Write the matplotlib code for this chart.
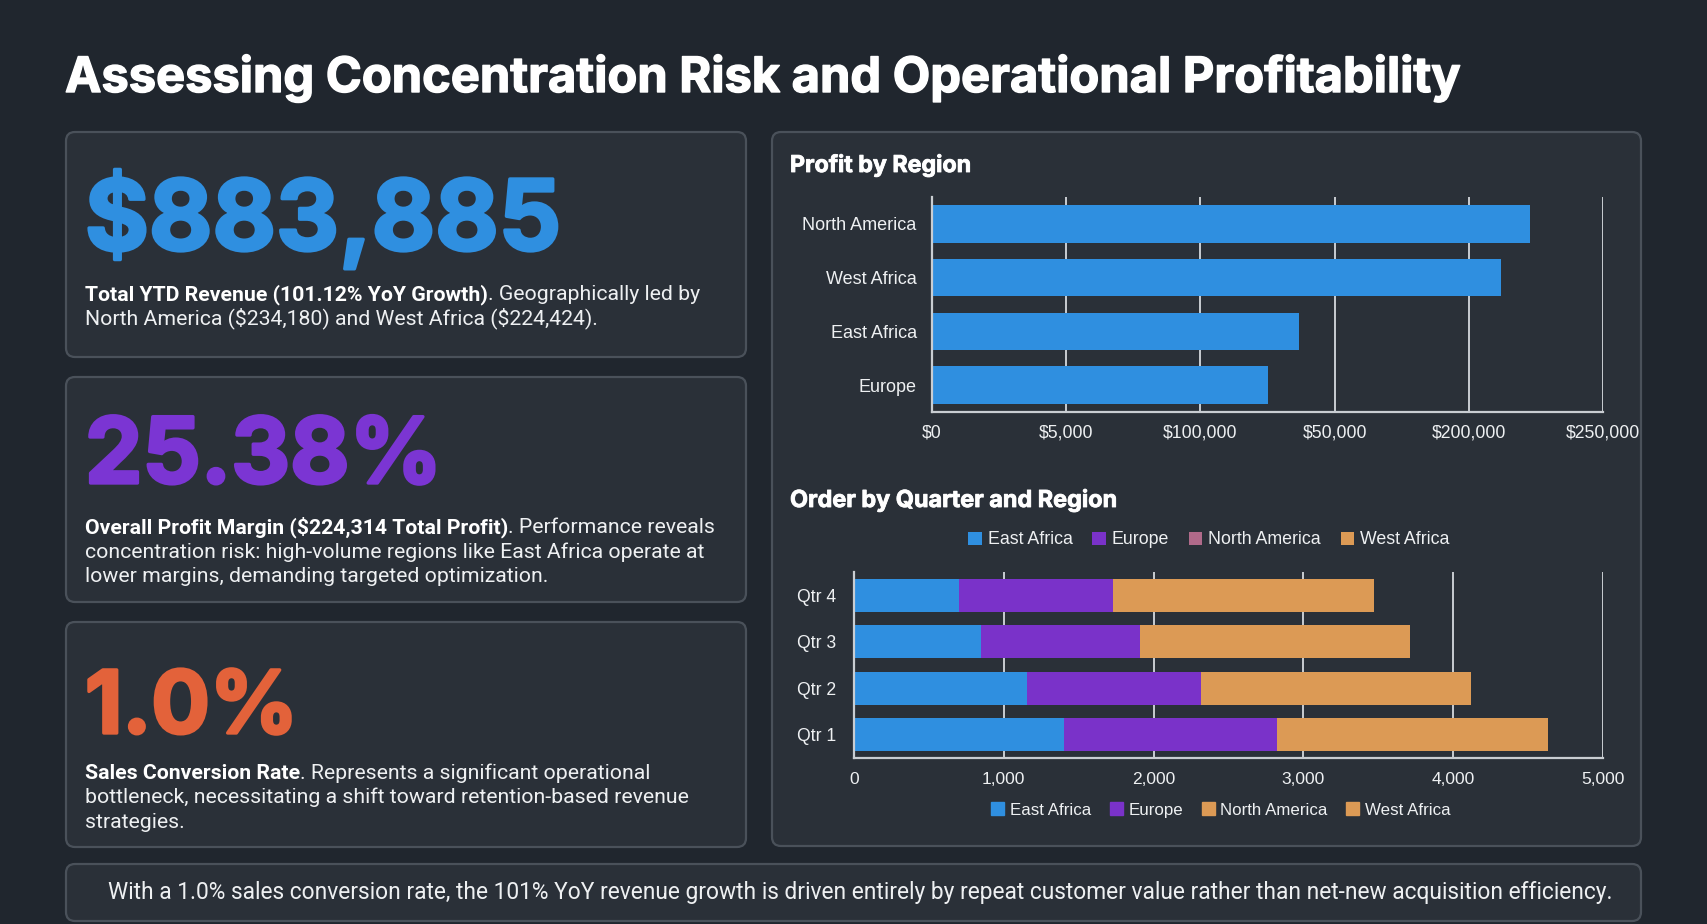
import matplotlib
matplotlib.use("Agg")
import matplotlib.pyplot as plt
from matplotlib.patches import FancyBboxPatch, Patch
import matplotlib.patheffects as pe
import numpy as np

W, H = 1707, 924

# ---------------- data ----------------
regions = ["North America", "West Africa", "East Africa", "Europe"]
region_profit = [222900, 212100, 136800, 125300]
profit_ticks = [0, 50000, 100000, 150000, 200000, 250000]
profit_tick_labels = ["$0", "$5,000", "$100,000", "$50,000", "$200,000", "$250,000"]

quarters = ["Qtr 1", "Qtr 2", "Qtr 3", "Qtr 4"]
orders_east_africa = [1401, 1152, 847, 700]
orders_europe = [1420, 1162, 1061, 1028]
orders_north_america = [0, 0, 0, 0]
orders_west_africa = [1809, 1804, 1806, 1745]
order_ticks = [0, 1000, 2000, 3000, 4000, 5000]
order_series = ["East Africa", "Europe", "North America", "West Africa"]

title = "Assessing Concentration Risk and Operational Profitability"
kpi_values = ["$883,885", "25.38%", "1.0%"]
kpi_texts = [
    [[("Total YTD Revenue (101.12% YoY Growth)", "bold"), (". Geographically led by", "normal")],
     [("North America ($234,180) and West Africa ($224,424).", "normal")]],
    [[("Overall Profit Margin ($224,314 Total Profit)", "bold"), (". Performance reveals", "normal")],
     [("concentration risk: high-volume regions like East Africa operate at", "normal")],
     [("lower margins, demanding targeted optimization.", "normal")]],
    [[("Sales Conversion Rate", "bold"), (". Represents a significant operational", "normal")],
     [("bottleneck, necessitating a shift toward retention-based revenue", "normal")],
     [("strategies.", "normal")]],
]
footer = ("With a 1.0% sales conversion rate, the 101% YoY revenue growth is driven entirely "
          "by repeat customer value rather than net-new acquisition efficiency.")

# ---------------- style ----------------
BG = "#20262e"
CARD = "#2a3038"
EDGE = "#4a515a"
TXT = "#eef0f2"
GRID = "#c9cdd2"
BLUE = "#2f8fe0"
PURPLE = "#7a32c9"
MAUVE = "#b06a8a"
ORANGE = "#dc9a55"
KPI_COLORS = ["#2f8fe0", "#7b35d3", "#e3623a"]
HEAD = ["Inter", "Roboto", "DejaVu Sans"]
BODY = ["Roboto", "DejaVu Sans"]
CHART = ["Liberation Sans", "DejaVu Sans"]

fig = plt.figure(figsize=(W / 100, H / 100), dpi=100, facecolor=BG)
renderer = fig.canvas.get_renderer()

bg = fig.add_axes([0, 0, 1, 1], zorder=-5)
bg.set_xlim(0, W)
bg.set_ylim(H, 0)
bg.axis("off")
bg.set_facecolor(BG)


def card(x0, y0, x1, y1):
    p = FancyBboxPatch((x0, y0), x1 - x0, y1 - y0,
                       boxstyle="round,pad=0,rounding_size=9",
                       facecolor=CARD, edgecolor=EDGE, linewidth=1.6)
    bg.add_patch(p)


def fit(t, width):
    bb = t.get_window_extent(renderer)
    t.set_fontsize(t.get_fontsize() * width / bb.width)


def txt(x, y, s, **kw):
    return bg.text(x, y, s, parse_math=False, **kw)


# cards
card(66, 132, 746, 357)
card(66, 377, 746, 602)
card(66, 622, 746, 847)
card(772, 132, 1641, 846)
card(66, 864, 1641, 921)

# title
t = txt(65, 92, title, fontsize=36, fontweight="bold", family=HEAD, color="white",
        ha="left", va="baseline")
fit(t, 1396)
t.set_path_effects([pe.withStroke(linewidth=1.0, foreground="white")])

# KPI numbers
kpi_base = [250, 483, 733]
kpi_width = [476, 357, 213]
for val, yb, wd, col in zip(kpi_values, kpi_base, kpi_width, KPI_COLORS):
    t = txt(85, yb, val, fontsize=70, fontweight="bold", family=HEAD, color=col,
            ha="left", va="baseline")
    fit(t, wd)
    t.set_path_effects([pe.withStroke(linewidth=2.4, foreground=col)])

# body text size
probe = txt(0, 0, "concentration risk: high-volume regions like East Africa operate at",
            fontsize=14, family=BODY)
fit(probe, 622)
body_size = probe.get_fontsize()
probe.remove()

line_bases = [[300, 324], [533, 558, 582], [779, 803, 828]]
for lines, bases in zip(kpi_texts, line_bases):
    for parts, yb in zip(lines, bases):
        x = 85
        for s, wt in parts:
            t = txt(x, yb, s, fontsize=body_size, fontweight=wt, family=BODY,
                    color=TXT if wt == "normal" else "white", ha="left", va="baseline")
            x += t.get_window_extent(renderer).width

# footer
t = txt(860, 899, footer, fontsize=16, family=BODY, color=TXT, ha="center", va="baseline")
fit(t, 1505)

# section titles
for s, yb, wd in [("Profit by Region", 172, 181), ("Order by Quarter and Region", 507, 327)]:
    t = txt(790, yb, s, fontsize=18, fontweight="bold", family=HEAD,
            color="white", ha="left", va="baseline")
    fit(t, wd)
    t.set_path_effects([pe.withStroke(linewidth=0.6, foreground="white")])


def style_axes(ax):
    ax.set_facecolor("none")
    for s in ["top", "right"]:
        ax.spines[s].set_visible(False)
    for s in ["left", "bottom"]:
        ax.spines[s].set_color(GRID)
        ax.spines[s].set_linewidth(1.6)
    ax.grid(axis="x", color=GRID, linewidth=1.4)
    ax.grid(axis="y", visible=False)
    ax.set_axisbelow(True)
    ax.tick_params(length=0, colors=TXT)
    for lab in ax.get_xticklabels() + ax.get_yticklabels():
        lab.set_family(CHART)


# ---------------- Profit by Region ----------------
ax1 = fig.add_axes([932 / W, 1 - 412 / H, (1603 - 932) / W, (412 - 197) / H])
ypos = np.arange(len(regions))
ax1.barh(ypos, region_profit, height=0.7, color=BLUE, linewidth=0)
ax1.set_ylim(len(regions) - 0.5, -0.5)
ax1.set_xlim(0, 250000)
ax1.set_xticks(profit_ticks)
ax1.set_xticklabels(profit_tick_labels, fontsize=12.7)
ax1.set_yticks(ypos)
ax1.set_yticklabels(regions, fontsize=13)
ax1.tick_params(axis="x", pad=9)
ax1.tick_params(axis="y", pad=11)
style_axes(ax1)

# ---------------- Order by Quarter and Region ----------------
ax2 = fig.add_axes([854 / W, 1 - 758 / H, (1603 - 854) / W, (758 - 572) / H])
qpos = np.arange(len(quarters))
left = np.zeros(len(quarters))
handles = []
for vals, col in zip([orders_east_africa, orders_europe, orders_north_america, orders_west_africa],
                     [BLUE, PURPLE, MAUVE, ORANGE]):
    b = ax2.barh(qpos, vals, left=left, height=0.7, color=col, linewidth=0)
    handles.append(b)
    left = left + np.array(vals)
ax2.set_ylim(-0.5, len(quarters) - 0.5)
ax2.set_xlim(0, 5000)
ax2.set_xticks(order_ticks)
ax2.set_xticklabels([f"{v:,}" for v in order_ticks], fontsize=12.5)
ax2.set_yticks(qpos)
ax2.set_yticklabels(quarters, fontsize=12.7)
ax2.tick_params(axis="x", pad=10)
ax2.tick_params(axis="y", pad=13)
style_axes(ax2)

leg_kw = dict(loc="center", ncol=4, frameon=False, handlelength=0.75, handleheight=0.75,
              handletextpad=0.35, columnspacing=1.1, labelcolor=TXT,
              prop={"family": CHART, "size": 12.8})
fig.legend(handles, order_series, bbox_to_anchor=(1209 / W, 1 - 540 / H), **leg_kw)
bottom_handles = [Patch(color=c) for c in [BLUE, PURPLE, ORANGE, ORANGE]]
leg_kw["prop"] = {"family": CHART, "size": 12.2}
fig.legend(bottom_handles, order_series, bbox_to_anchor=(1221 / W, 1 - 810 / H), **leg_kw)

fig.savefig("out.png", dpi=100, facecolor=BG)
